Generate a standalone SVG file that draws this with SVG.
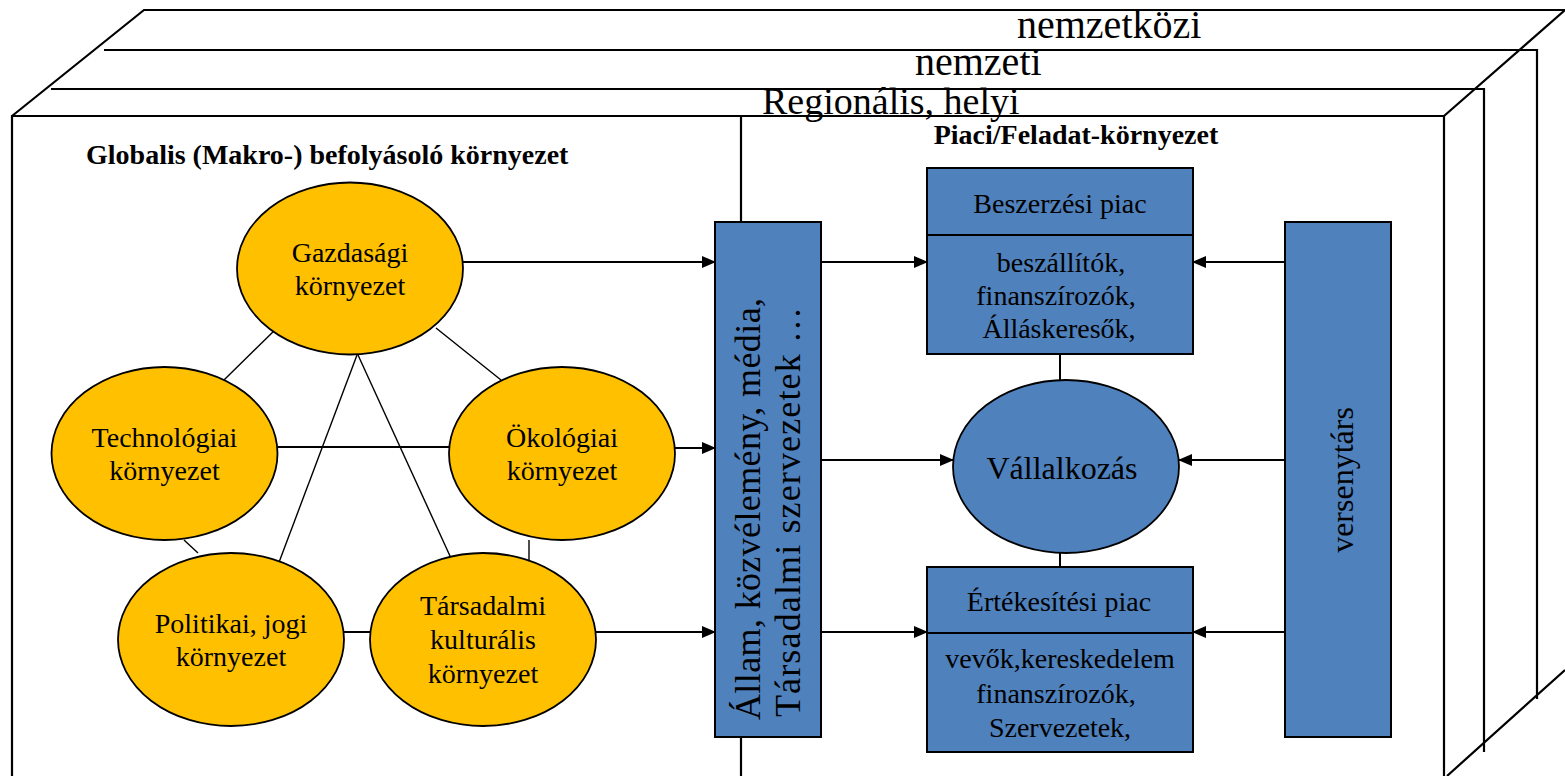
<svg xmlns="http://www.w3.org/2000/svg" width="1565" height="776" viewBox="0 0 1565 776">
  <defs>
    <marker id="arrow" markerUnits="userSpaceOnUse" markerWidth="14" markerHeight="12" refX="13" refY="6" orient="auto">
      <path d="M0,0 L14,6 L0,12 z" fill="#000"/>
    </marker>
  </defs>
  <style>
    .frame{stroke:#000;stroke-width:2.2;fill:none}
    .env{fill:#FFC000;stroke:#000;stroke-width:1.8}
    .blue{fill:#4F81BD;stroke:#000;stroke-width:2}
    .t{font-family:"Liberation Serif","Times New Roman",serif;fill:#000}
    .c{text-anchor:middle}
    .b{font-weight:bold}
    .link{stroke:#000;stroke-width:1.4;fill:none}
    .hl{stroke:#000;stroke-width:2;fill:none}
    .arr{stroke:#000;stroke-width:2;fill:none;marker-end:url(#arrow)}
  </style>
  <rect width="1565" height="776" fill="#fff"/>

  <!-- nested environment layers drawn as an open box -->
  <g id="layers">
    <path class="frame" d="M12,776 V116 H1444 V776 M12,116 L144,10 H1565 M51,89 H1484 V752 M104,50 H1537 V699 M1444,116 L1565,10 M1447,776 L1565,670 M741,116 V222 M741,737 V776"/>
    <text class="t" x="1017" y="38" font-size="40">nemzetközi</text>
    <text class="t" x="915" y="75" font-size="40">nemzeti</text>
    <text class="t" x="762" y="114" font-size="38">Regionális, helyi</text>
    <text class="t b" x="86" y="164" font-size="28">Globalis (Makro-) befolyásoló környezet</text>
    <text class="t b c" x="1076" y="144" font-size="28">Piaci/Feladat-környezet</text>
  </g>

  <!-- connectors -->
  <g id="connectors">
    <line class="link" x1="277" y1="328" x2="224" y2="380"/>
    <line class="link" x1="436" y1="328" x2="501" y2="380"/>
    <line class="link" x1="357" y1="355" x2="278" y2="565"/>
    <line class="link" x1="358" y1="355" x2="450" y2="556"/>
    <line class="hl" x1="278" y1="447" x2="449" y2="447"/>
    <line class="link" x1="184" y1="540" x2="198" y2="553"/>
    <line class="link" x1="529" y1="540" x2="529" y2="567"/>
    <line class="hl" x1="344" y1="632" x2="370" y2="632"/>
    <line class="arr" x1="463" y1="262" x2="715" y2="262"/>
    <line class="arr" x1="675" y1="448" x2="715" y2="448"/>
    <line class="arr" x1="596" y1="632" x2="715" y2="632"/>
    <line class="arr" x1="821" y1="262" x2="927" y2="262"/>
    <line class="arr" x1="821" y1="460" x2="953" y2="460"/>
    <line class="arr" x1="821" y1="632" x2="927" y2="632"/>
    <line class="arr" x1="1285" y1="262" x2="1193" y2="262"/>
    <line class="arr" x1="1285" y1="460" x2="1179" y2="460"/>
    <line class="arr" x1="1285" y1="632" x2="1193" y2="632"/>
    <line class="hl" x1="1060" y1="354" x2="1060" y2="380"/>
    <line class="hl" x1="1060" y1="553" x2="1060" y2="567"/>
  </g>

  <g id="gazdasagi">
    <ellipse class="env" cx="350" cy="268.5" rx="113" ry="86"/>
    <text class="t c" x="350" y="262" font-size="28">Gazdasági</text>
    <text class="t c" x="350" y="295" font-size="28">környezet</text>
  </g>
  <g id="technologiai">
    <ellipse class="env" cx="164.5" cy="453.5" rx="113" ry="86.5"/>
    <text class="t c" x="164.5" y="447" font-size="28">Technológiai</text>
    <text class="t c" x="164.5" y="480" font-size="28">környezet</text>
  </g>
  <g id="okologiai">
    <ellipse class="env" cx="562" cy="453.5" rx="113" ry="86.5"/>
    <text class="t c" x="562" y="447" font-size="28">Ökológiai</text>
    <text class="t c" x="562" y="480" font-size="28">környezet</text>
  </g>
  <g id="politikai">
    <ellipse class="env" cx="231" cy="639.5" rx="113" ry="86.5"/>
    <text class="t c" x="231" y="633" font-size="28">Politikai, jogi</text>
    <text class="t c" x="231" y="666" font-size="28">környezet</text>
  </g>
  <g id="tarsadalmi">
    <ellipse class="env" cx="483" cy="639.5" rx="113" ry="86.5"/>
    <text class="t c" x="483" y="615" font-size="28">Társadalmi</text>
    <text class="t c" x="483" y="649" font-size="28">kulturális</text>
    <text class="t c" x="483" y="683" font-size="28">környezet</text>
  </g>

  <g id="allam">
    <rect class="blue" x="715" y="222" width="106" height="515"/>
    <text class="t" transform="translate(760,720) rotate(-90)" font-size="36" textLength="422">Állam, közvélemény, média,</text>
    <text class="t" transform="translate(800,717) rotate(-90)" font-size="36" textLength="410">Társadalmi szervezetek …</text>
  </g>

  <g id="beszerzesi">
    <rect class="blue" x="927" y="168" width="266" height="186"/>
    <line class="hl" x1="927" y1="235" x2="1193" y2="235"/>
    <text class="t c" x="1060" y="213" font-size="28">Beszerzési piac</text>
    <text class="t c" x="1061" y="272" font-size="28">beszállítók,</text>
    <text class="t c" x="1056" y="305" font-size="28">finanszírozók,</text>
    <text class="t c" x="1059" y="338" font-size="28">Álláskeresők,</text>
  </g>

  <g id="vallalkozas">
    <ellipse class="blue" style="stroke-width:1.8" cx="1066" cy="466.5" rx="113" ry="86.5"/>
    <text class="t c" x="1062" y="479" font-size="32">Vállalkozás</text>
  </g>

  <g id="ertekesitesi">
    <rect class="blue" x="927" y="567" width="266" height="185"/>
    <line class="hl" x1="927" y1="633" x2="1193" y2="633"/>
    <text class="t c" x="1059" y="611" font-size="28">Értékesítési piac</text>
    <text class="t c" x="1060" y="668" font-size="28">vevők,kereskedelem</text>
    <text class="t c" x="1056" y="703" font-size="28">finanszírozók,</text>
    <text class="t c" x="1060" y="737" font-size="28">Szervezetek,</text>
  </g>

  <g id="versenytars">
    <rect class="blue" x="1285" y="222" width="106" height="515"/>
    <text class="t c" transform="translate(1353,480) rotate(-90)" font-size="32">versenytárs</text>
  </g>
</svg>
